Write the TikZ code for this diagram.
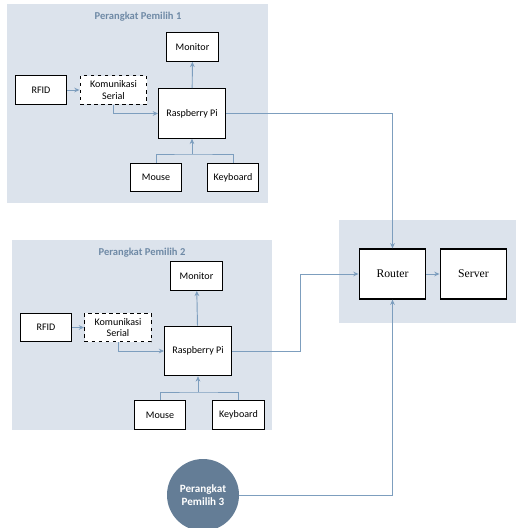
\documentclass[tikz,border=0pt]{standalone}
\usepackage{fontspec}
\setmainfont{Carlito}
\newfontfamily\routerfont{Liberation Serif}
\usepackage{tikz}
\definecolor{pmlpanel}{RGB}{220, 227, 236}
\definecolor{pmltitle}{RGB}{111, 138, 166}
\definecolor{pmlline}{RGB}{125, 158, 190}
\definecolor{pmlcircle}{RGB}{100, 125, 150}
\usetikzlibrary{arrows.meta,positioning}
\tikzset{
  unit/.style={draw=black, line width=1.1pt, fill=white, font=\fontsize{8.6}{10}\selectfont, align=center, minimum width=1.55cm, minimum height=0.85cm, inner sep=1pt},
  serial/.style={unit, dashed, minimum width=2cm},
  pibox/.style={unit, minimum width=2cm, minimum height=1.48cm},
  netbox/.style={unit, font=\routerfont\fontsize{10}{12}\selectfont, minimum width=2cm, minimum height=1.5cm},
  paneltitle/.style={text=pmltitle, font=\bfseries\fontsize{9}{11}\selectfont},
  link/.style={draw=pmlline, line width=0.8pt},
  ->/.style={link, -{Stealth[length=4.5pt, width=4pt]}}
}

\begin{document}
\begin{tikzpicture}[x=0.03cm, y=-0.03cm]
    \useasboundingbox (0,0) rectangle (518,528);
    % panels
    \fill[pmlpanel] (7,4) rectangle (268,203);
    \fill[pmlpanel] (12,240) rectangle (272,430);
    \fill[pmlpanel] (339,220) rectangle (516,323);
    \node[paneltitle] (title1) at (138,17) {Perangkat Pemilih 1};
    \node[paneltitle] (title2) at (142,253) {Perangkat Pemilih 2};

    % perangkat pemilih 1
    \node[unit] (mon1) at (192.5,47) {Monitor};
    \node[unit] (rfid1) at (41,90) {RFID};
    \node[serial] (ser1) at (113.5,90) {Komunikasi\\Serial};
    \node[pibox] (rpi1) at (192,113.5) {Raspberry Pi};
    \node[unit] (mouse1) at (156,177.5) {Mouse};
    \node[unit] (key1) at (233,177.5) {Keyboard};
    \coordinate (join1) at (192,154);

    % perangkat pemilih 2
    \node[unit] (mon2) at (196.5,276) {Monitor};
    \node[unit] (rfid2) at (46,327.5) {RFID};
    \node[serial] (ser2) at (118,327.5) {Komunikasi\\Serial};
    \node[pibox] (rpi2) at (198,351) {Raspberry Pi};
    \node[unit] (mouse2) at (160,415) {Mouse};
    \node[unit] (key2) at (238.5,415) {Keyboard};
    \coordinate (join2) at (198,392);

    % jaringan
    \node[netbox] (router) at (392.5,274) {Router};
    \node[netbox] (server) at (473.5,274) {Server};
    \node[circle, fill=pmlcircle, minimum size=2.16cm, text=white, align=center, font=\bfseries\fontsize{9.5}{11.5}\selectfont] (pem3) at (203,495) {Perangkat\\Pemilih 3};
    \coordinate (bend2) at (300,351);

    \draw[->] (rfid1) -- (ser1);
    \draw[->] (ser1.south) |- (rpi1.west);
    \draw[->] (rpi1) -- (mon1);
    \draw[link] (mouse1.north) |- (join1) -| (key1.north);
    \draw[->] (join1) -- (rpi1.south);

    \draw[->] (rfid2) -- (ser2);
    \draw[->] (ser2.south) |- (rpi2.west);
    \draw[->] (rpi2) -- (mon2);
    \draw[link] (mouse2.north) |- (join2) -| (key2.north);
    \draw[->] (join2) -- (rpi2.south);

    \draw[->] (rpi1.east) -| (router.north);
    \draw[->] (rpi2.east) -- (bend2) |- (router.west);
    \draw[->] (pem3.east) -| (router.south);
    \draw[->] (router) -- (server);
\end{tikzpicture}
\end{document}
